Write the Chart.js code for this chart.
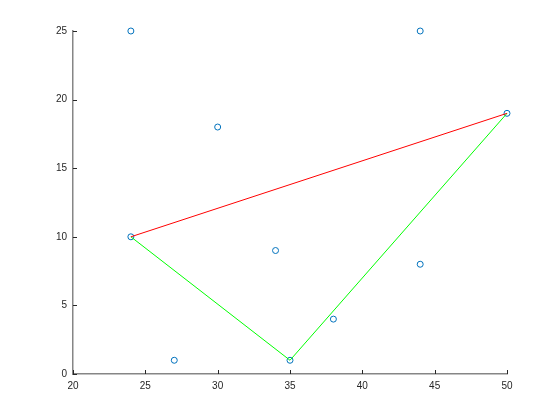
<!DOCTYPE html>
<html>
<head>
<meta charset="utf-8">
<script src="https://cdn.jsdelivr.net/npm/chart.js@4"></script>
<style>
    html, body { margin: 0; padding: 0; background: #fff; }
    #wrap { width: 560px; height: 420px; }
</style>
</head>
<body>
<div id="wrap"><canvas id="chart" width="560" height="420"></canvas></div>
<script>
// Scatter points
const pointX = [24, 44, 30, 50, 24, 34, 44, 38, 27, 35];
const pointY = [25, 25, 18, 19, 10, 9, 8, 4, 1, 1];

// Red segment
const redX = [24, 50];
const redY = [10, 19];

// Green path
const greenX = [24, 35, 50];
const greenY = [10, 1, 19];

const xTicks = [20, 25, 30, 35, 40, 45, 50];
const yTicks = [0, 5, 10, 15, 20, 25];

function toXY(xs, ys) {
    return xs.map((x, i) => ({ x: x, y: ys[i] }));
}

// Draw MATLAB-style inward ticks
const inwardTicks = {
    id: 'inwardTicks',
    afterDraw(chart) {
        const ctx = chart.ctx;
        const xs = chart.scales.x;
        const ys = chart.scales.y;
        ctx.save();
        ctx.strokeStyle = '#262626';
        ctx.lineWidth = 1;
        ctx.beginPath();
        xTicks.forEach(v => {
            const px = Math.round(xs.getPixelForValue(v)) + 0.5;
            ctx.moveTo(px, ys.bottom);
            ctx.lineTo(px, ys.bottom - 4);
        });
        yTicks.forEach(v => {
            const py = Math.round(ys.getPixelForValue(v)) + 0.5;
            ctx.moveTo(xs.left, py);
            ctx.lineTo(xs.left + 4, py);
        });
        ctx.stroke();
        ctx.restore();
    }
};

new Chart(document.getElementById('chart'), {
    type: 'scatter',
    data: {
        datasets: [
            {
                data: toXY(redX, redY),
                showLine: true,
                borderColor: '#ff0000',
                borderWidth: 1,
                pointRadius: 0,
                fill: false,
                clip: false
            },
            {
                data: toXY(greenX, greenY),
                showLine: true,
                borderColor: '#00ff00',
                borderWidth: 1,
                pointRadius: 0,
                fill: false,
                clip: false
            },
            {
                data: toXY(pointX, pointY),
                showLine: false,
                borderColor: '#0072bd',
                backgroundColor: 'rgba(0,0,0,0)',
                borderWidth: 1,
                pointRadius: 3,
                pointHoverRadius: 3,
                clip: false
            }
        ]
    },
    options: {
        responsive: false,
        animation: false,
        layout: { padding: { left: 0, top: 31, right: 53, bottom: 0 } },
        plugins: {
            legend: { display: false },
            tooltip: { enabled: false }
        },
        scales: {
            x: {
                type: 'linear',
                min: 20,
                max: 50,
                afterBuildTicks: axis => { axis.ticks = xTicks.map(v => ({ value: v })); },
                afterFit: axis => { axis.height = 46; },
                grid: { display: false, drawTicks: false },
                border: { display: true, color: '#868686', width: 1.5 },
                ticks: {
                    padding: 6,
                    color: '#262626',
                    font: { family: 'Liberation Sans, Arial, sans-serif', size: 10 },
                    maxRotation: 0
                }
            },
            y: {
                type: 'linear',
                min: 0,
                max: 25,
                afterBuildTicks: axis => { axis.ticks = yTicks.map(v => ({ value: v })); },
                afterFit: axis => { axis.width = 73; },
                grid: { display: false, drawTicks: false },
                border: { display: true, color: '#868686', width: 1.5 },
                ticks: {
                    padding: 6,
                    color: '#262626',
                    font: { family: 'Liberation Sans, Arial, sans-serif', size: 10 }
                }
            }
        }
    },
    plugins: [inwardTicks]
});
</script>
</body>
</html>
